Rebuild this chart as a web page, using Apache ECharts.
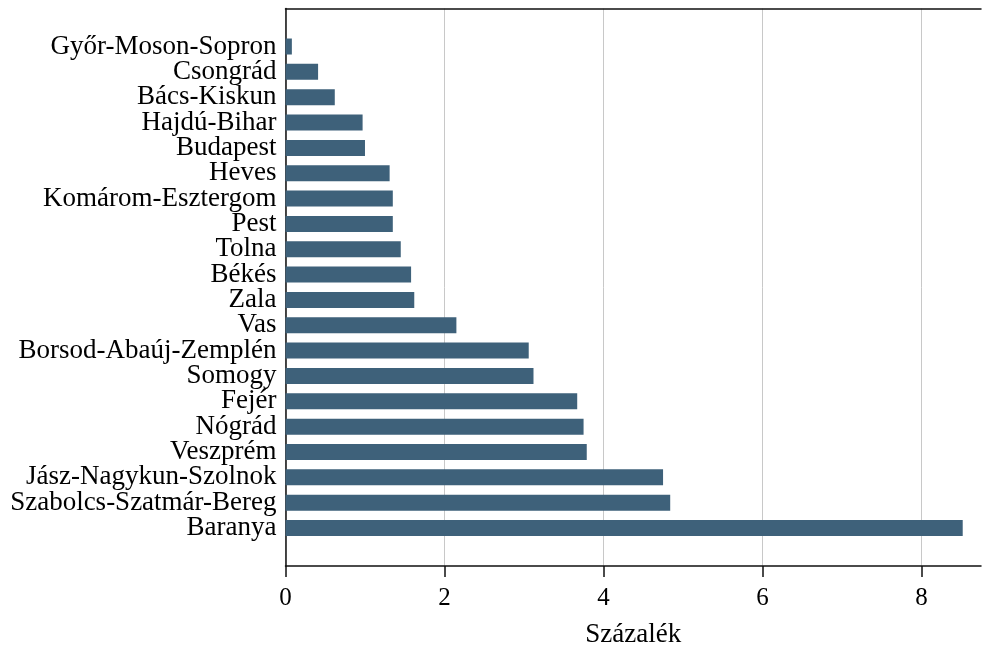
<!DOCTYPE html>
<html>
<head>
<meta charset="utf-8">
<script src="https://cdn.jsdelivr.net/npm/echarts@6/dist/echarts.min.js"></script>
<style>html,body{margin:0;padding:0;background:#fff}#c{width:982px;height:653px}</style>
</head>
<body>
<div id="c"></div>
<script>
var categories = ["Győr-Moson-Sopron","Csongrád","Bács-Kiskun","Hajdú-Bihar","Budapest","Heves","Komárom-Esztergom","Pest","Tolna","Békés","Zala","Vas","Borsod-Abaúj-Zemplén","Somogy","Fejér","Nógrád","Veszprém","Jász-Nagykun-Szolnok","Szabolcs-Szatmár-Bereg","Baranya"];
var values = [0.08,0.41,0.62,0.97,1.00,1.31,1.35,1.35,1.45,1.58,1.62,2.15,3.06,3.12,3.67,3.75,3.79,4.75,4.84,8.52];
var xTicks = [0,2,4,6,8];
var xTitle = "Százalék";

var padCats = [""].concat(categories).concat([""]);
var padVals = [null].concat(values).concat([null]);
var font = "'Liberation Serif','Times New Roman',serif";
var chart = echarts.init(document.getElementById('c'), null, {renderer:'canvas'});
chart.setOption({
  animation:false,
  grid:{left:285.5,right:1,top:8.5,bottom:84,containLabel:false},
  xAxis:[{
    type:'value',min:0,max:8.75,interval:2,position:'bottom',
    name:xTitle,nameLocation:'middle',nameGap:55,
    nameTextStyle:{fontFamily:font,fontSize:27,color:'#000'},
    axisLine:{show:true,onZero:false,lineStyle:{color:'#111',width:1.5}},
    axisTick:{show:true,length:11,customValues:xTicks,lineStyle:{color:'#111',width:1.5}},
    axisLabel:{customValues:xTicks,fontFamily:font,fontSize:25,color:'#000',margin:20},
    splitLine:{show:true,lineStyle:{color:'#c8c8c8',width:1}}
  },{
    type:'value',min:0,max:8.75,position:'top',
    axisLine:{show:true,onZero:false,lineStyle:{color:'#111',width:1.5}},
    axisTick:{show:false},axisLabel:{show:false},splitLine:{show:false}
  }],
  yAxis:{
    type:'category',data:padCats,inverse:true,
    axisLine:{show:true,onZero:false,lineStyle:{color:'#111',width:1.5}},
    axisTick:{show:false},
    axisLabel:{fontFamily:font,fontSize:27,color:'#000',margin:9,interval:0},
    splitLine:{show:false}
  },
  series:[{
    type:'bar',data:padVals,barWidth:16,xAxisIndex:0,
    itemStyle:{color:'#3e617a'}
  }]
});
</script>
</body>
</html>
